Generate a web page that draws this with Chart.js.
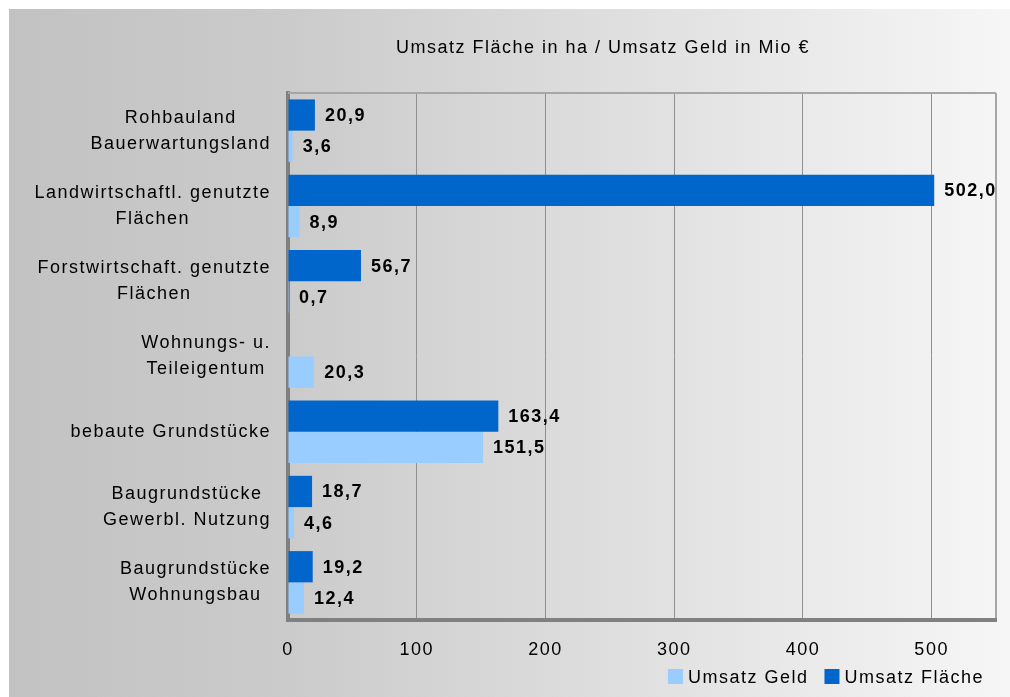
<!DOCTYPE html>
<html lang="de">
<head>
<meta charset="utf-8">
<title>Umsatz Fläche / Umsatz Geld</title>
<script src="https://cdn.jsdelivr.net/npm/chart.js@4.4.1/dist/chart.umd.min.js"></script>
<style>
  html, body { margin: 0; padding: 0; background: #ffffff; }
  canvas { display: block; }
</style>
</head>
<body>
<canvas id="chart" width="1010" height="697"></canvas>
<script>
// Grundstücksmarkt: Umsätze je Teilmarkt
const categories = [
  ['Rohbauland', 'Bauerwartungsland'],
  ['Landwirtschaftl. genutzte', 'Flächen'],
  ['Forstwirtschaft. genutzte', 'Flächen'],
  ['Wohnungs- u.', 'Teileigentum'],
  ['bebaute Grundstücke'],
  ['Baugrundstücke', 'Gewerbl. Nutzung'],
  ['Baugrundstücke', 'Wohnungsbau']
];
const umsatzFlaeche = [20.9, 502.0, 56.7, null, 163.4, 18.7, 19.2]; // ha
const umsatzGeld = [3.6, 8.9, 0.7, 20.3, 151.5, 4.6, 12.4];         // Mio €
const xTicks = [0, 100, 200, 300, 400, 500];
const xMax = 550;
const titleText = 'Umsatz Fläche in ha / Umsatz Geld in Mio €';

const FONT = '"Liberation Sans", Arial, sans-serif';
const SPACING = '1.5px';

const fmt = v => v.toFixed(1).replace('.', ',');

// letter spacing is part of the canvas state; set it before measuring and drawing
const spacingPlugin = {
  id: 'spacing',
  beforeLayout(chart) { chart.ctx.letterSpacing = SPACING; },
  beforeDraw(chart) { chart.ctx.letterSpacing = SPACING; }
};

// grey-to-white panel behind the whole chart, plus the plot frame top edge
const panelPlugin = {
  id: 'panel',
  beforeDraw(chart) {
    const { ctx, width, height } = chart;
    ctx.save();
    ctx.fillStyle = '#ffffff';
    ctx.fillRect(0, 0, width, height);
    const g = ctx.createLinearGradient(9, 0, width, 0);
    g.addColorStop(0, '#c2c2c2');
    g.addColorStop(0.28, '#cbcbcb');
    g.addColorStop(1, '#f6f6f6');
    ctx.fillStyle = g;
    ctx.fillRect(9, 9, width - 9, height - 9);
    ctx.restore();
  },
  beforeDatasetsDraw(chart) {
    const { ctx, chartArea } = chart;
    ctx.save();
    ctx.strokeStyle = '#a6a6a6';
    ctx.lineWidth = 2;
    ctx.beginPath();
    ctx.moveTo(chartArea.left, chartArea.top);
    ctx.lineTo(chartArea.right, chartArea.top);
    ctx.stroke();
    ctx.restore();
  }
};

// title, centred over the plot region
const titlePlugin = {
  id: 'chartTitle',
  afterDraw(chart) {
    const { ctx } = chart;
    ctx.save();
    ctx.font = '18px ' + FONT;
    ctx.fillStyle = '#000000';
    ctx.textAlign = 'center';
    ctx.textBaseline = 'middle';
    ctx.fillText(titleText, 603, 48);
    ctx.restore();
  }
};

// legend in the bottom-right corner, drawn in reverse dataset order
const legendPlugin = {
  id: 'cornerLegend',
  afterDraw(chart) {
    const { ctx } = chart;
    const right = 984, cy = 677, box = 15, gap = 5, itemGap = 16;
    ctx.save();
    ctx.font = '18px ' + FONT;
    ctx.textAlign = 'left';
    ctx.textBaseline = 'middle';
    const items = chart.data.datasets.map(d => ({ text: d.label, color: d.backgroundColor })).reverse();
    const widths = items.map(it => box + gap + ctx.measureText(it.text).width);
    let x = right - widths.reduce((a, b) => a + b, 0) - itemGap * (items.length - 1);
    items.forEach((it, i) => {
      ctx.fillStyle = it.color;
      ctx.fillRect(x, cy - 8, box, box);
      ctx.fillStyle = '#000000';
      ctx.fillText(it.text, x + box + gap, cy + 1);
      x += widths[i] + itemGap;
    });
    ctx.restore();
  }
};

// value labels at the end of each bar
const valueLabels = {
  id: 'valueLabels',
  afterDatasetsDraw(chart) {
    const { ctx } = chart;
    ctx.save();
    ctx.font = 'bold 18px ' + FONT;
    ctx.fillStyle = '#000000';
    ctx.textAlign = 'left';
    ctx.textBaseline = 'middle';
    chart.data.datasets.forEach((ds, di) => {
      const meta = chart.getDatasetMeta(di);
      meta.data.forEach((bar, i) => {
        const v = ds.data[i];
        if (v === null || v === undefined) return;
        ctx.fillText(fmt(v), bar.x + 10, bar.y + 1);
      });
    });
    ctx.restore();
  }
};

// category labels: right-aligned block, lines centred within it
const categoryLabels = {
  id: 'categoryLabels',
  afterDraw(chart) {
    const { ctx } = chart;
    const y = chart.scales.y;
    const rightEdge = y.right - 17;
    const lh = 26;
    ctx.save();
    ctx.font = '18px ' + FONT;
    ctx.fillStyle = '#000000';
    ctx.textAlign = 'center';
    ctx.textBaseline = 'middle';
    categories.forEach((lines, i) => {
      const cy = y.getPixelForValue(i);
      const w = Math.max(...lines.map(l => ctx.measureText(l).width));
      const cx = rightEdge - w / 2;
      const y0 = cy - (lines.length - 1) * lh / 2;
      lines.forEach((l, k) => ctx.fillText(l, cx, y0 + k * lh));
    });
    ctx.restore();
  }
};

new Chart(document.getElementById('chart'), {
  type: 'bar',
  data: {
    labels: categories.map(c => c.join(' ')),
    datasets: [
      {
        label: 'Umsatz Fläche',
        data: umsatzFlaeche,
        backgroundColor: '#0066cc',
        categoryPercentage: 0.83,
        barPercentage: 1.0
      },
      {
        label: 'Umsatz Geld',
        data: umsatzGeld,
        backgroundColor: '#99ccff',
        categoryPercentage: 0.83,
        barPercentage: 1.0
      }
    ]
  },
  options: {
    indexAxis: 'y',
    responsive: false,
    animation: false,
    events: [],
    layout: { padding: { left: 0, right: 14, top: 93, bottom: 37 } },
    scales: {
      x: {
        type: 'linear',
        min: 0,
        max: xMax,
        afterBuildTicks(scale) {
          scale.ticks = xTicks.concat([xMax]).map(v => ({ value: v }));
        },
        afterFit(scale) {
          scale.height = 40;
          scale.paddingLeft = 0;
          scale.paddingRight = 0;
        },
        ticks: {
          font: { family: FONT, size: 18 },
          color: '#000000',
          padding: 19,
          maxRotation: 0,
          autoSkip: false,
          callback: v => (xTicks.includes(v) ? String(v) : '')
        },
        grid: {
          drawTicks: false,
          color: c => (c.tick && c.tick.value === xMax ? '#a6a6a6' : '#8f8f8f'),
          lineWidth: c => (c.tick && c.tick.value === xMax ? 2 : 1)
        },
        border: { color: '#808080', width: 4 }
      },
      y: {
        type: 'category',
        afterFit(scale) { scale.width = 288; },
        ticks: { display: false },
        grid: { display: false, drawTicks: false },
        border: { color: '#808080', width: 4 }
      }
    },
    plugins: {
      title: { display: false },
      legend: { display: false },
      tooltip: { enabled: false }
    }
  },
  plugins: [spacingPlugin, panelPlugin, valueLabels, categoryLabels, titlePlugin, legendPlugin]
});
</script>
</body>
</html>
